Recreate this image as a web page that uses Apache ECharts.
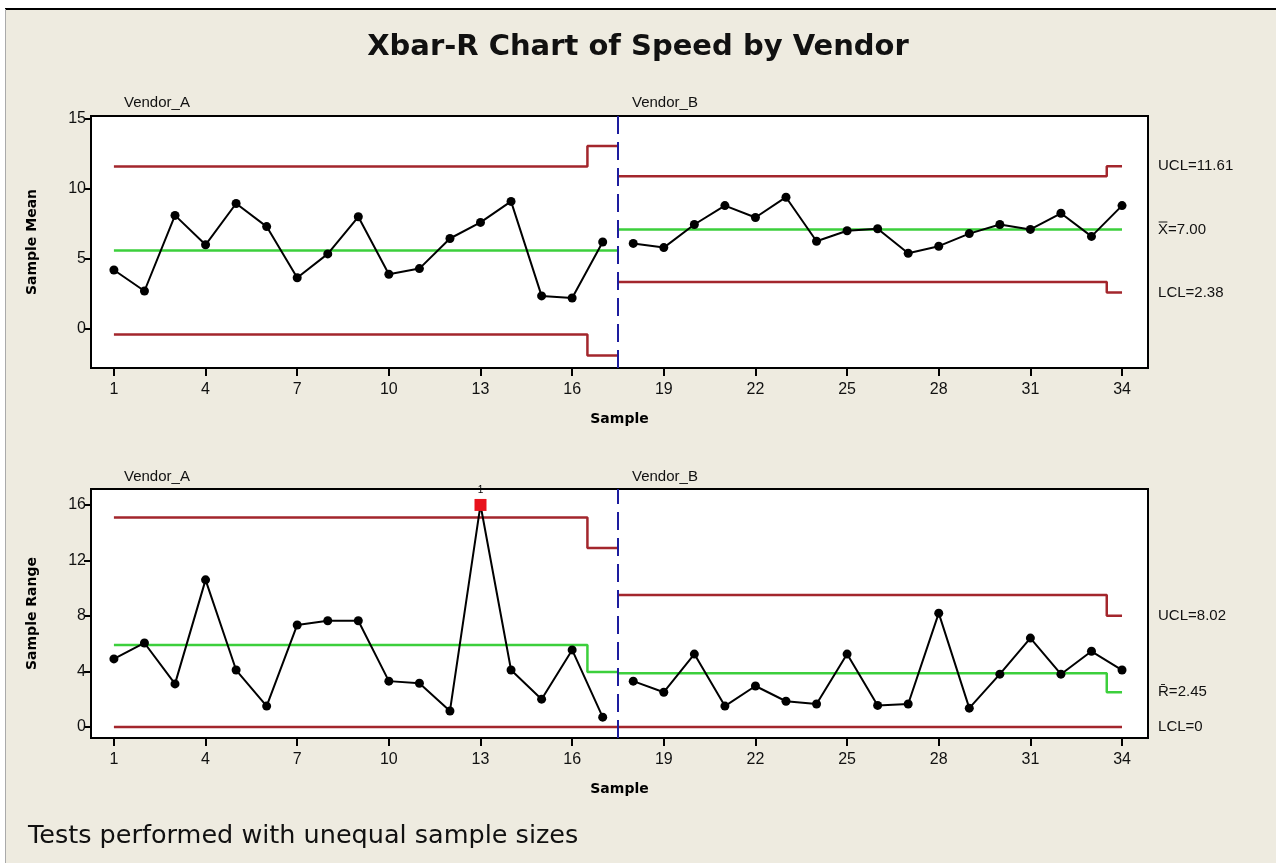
<!DOCTYPE html>
<html>
<head>
<meta charset="utf-8">
<script src="https://cdn.jsdelivr.net/npm/echarts@6/dist/echarts.min.js"></script>
<style>
  html, body { margin: 0; padding: 0; background: #fff; }
  #chart { width: 1276px; height: 863px; }
</style>
</head>
<body>
<div id="chart"></div>
<script>
// sample numbers per vendor
const samplesA = [1, 2, 3, 4, 5, 6, 7, 8, 9, 10, 11, 12, 13, 14, 15, 16, 17]
const samplesB = [18, 19, 20, 21, 22, 23, 24, 25, 26, 27, 28, 29, 30, 31, 32, 33, 34]
const xTicks = [1, 4, 7, 10, 13, 16, 19, 22, 25, 28, 31, 34]

// Xbar chart
const meanA = [4.2, 2.7, 8.1, 6.0, 8.95, 7.3, 3.65, 5.35, 8.0, 3.9, 4.3, 6.45, 7.6, 9.1, 2.35, 2.2, 6.2]
const meanB = [6.1, 5.8, 7.45, 8.8, 7.95, 9.4, 6.25, 7.0, 7.15, 5.4, 5.9, 6.8, 7.45, 7.1, 8.25, 6.6, 8.8]
const meanUclA = [11.6, 11.6, 11.6, 11.6, 11.6, 11.6, 11.6, 11.6, 11.6, 11.6, 11.6, 11.6, 11.6, 11.6, 11.6, 11.6, 13.05]
const meanClA = [5.6, 5.6, 5.6, 5.6, 5.6, 5.6, 5.6, 5.6, 5.6, 5.6, 5.6, 5.6, 5.6, 5.6, 5.6, 5.6, 5.6]
const meanLclA = [-0.4, -0.4, -0.4, -0.4, -0.4, -0.4, -0.4, -0.4, -0.4, -0.4, -0.4, -0.4, -0.4, -0.4, -0.4, -0.4, -1.9]
const meanUclB = [10.9, 10.9, 10.9, 10.9, 10.9, 10.9, 10.9, 10.9, 10.9, 10.9, 10.9, 10.9, 10.9, 10.9, 10.9, 10.9, 11.61]
const meanClB = [7.1, 7.1, 7.1, 7.1, 7.1, 7.1, 7.1, 7.1, 7.1, 7.1, 7.1, 7.1, 7.1, 7.1, 7.1, 7.1, 7.1]
const meanLclB = [3.35, 3.35, 3.35, 3.35, 3.35, 3.35, 3.35, 3.35, 3.35, 3.35, 3.35, 3.35, 3.35, 3.35, 3.35, 3.35, 2.6]
const meanTicks = [0, 5, 10, 15]
const meanLabels = ['UCL=11.61', 'X\u033F=7.00', 'LCL=2.38']

// R chart
const rangeA = [4.9, 6.05, 3.1, 10.6, 4.1, 1.5, 7.35, 7.65, 7.65, 3.3, 3.15, 1.15, 16.0, 4.1, 2.0, 5.55, 0.7]
const rangeB = [3.3, 2.5, 5.25, 1.5, 2.95, 1.85, 1.65, 5.25, 1.55, 1.65, 8.2, 1.35, 3.8, 6.4, 3.8, 5.45, 4.1]
const rangeUclA = [15.1, 15.1, 15.1, 15.1, 15.1, 15.1, 15.1, 15.1, 15.1, 15.1, 15.1, 15.1, 15.1, 15.1, 15.1, 15.1, 12.9]
const rangeClA = [5.9, 5.9, 5.9, 5.9, 5.9, 5.9, 5.9, 5.9, 5.9, 5.9, 5.9, 5.9, 5.9, 5.9, 5.9, 5.9, 3.95]
const rangeLclA = [0, 0, 0, 0, 0, 0, 0, 0, 0, 0, 0, 0, 0, 0, 0, 0, 0]
const rangeUclB = [9.5, 9.5, 9.5, 9.5, 9.5, 9.5, 9.5, 9.5, 9.5, 9.5, 9.5, 9.5, 9.5, 9.5, 9.5, 9.5, 8.02]
const rangeClB = [3.87, 3.87, 3.87, 3.87, 3.87, 3.87, 3.87, 3.87, 3.87, 3.87, 3.87, 3.87, 3.87, 3.87, 3.87, 3.87, 2.5]
const rangeLclB = [0, 0, 0, 0, 0, 0, 0, 0, 0, 0, 0, 0, 0, 0, 0, 0, 0]
const rangeTicks = [0, 4, 8, 12, 16]
const rangeLabels = ['UCL=8.02', 'R\u0304=2.45', 'LCL=0']
const outOfControl = [13]  // sample failing test 1 on R chart

const stageSplit = 17.5
const narrow = '"Liberation Sans", Arial, sans-serif'
const RED = '#a3262c'
const GREEN = '#3ccf3c'

const chart = echarts.init(document.getElementById('chart'))

// limit line for a stage: step at half samples, stretched to the stage border
function limitData(samples, vals, stage) {
  const pts = samples.map((s, i) => [s, vals[i]])
  if (stage === 'A') pts.push([stageSplit, vals[vals.length - 1]])
  else pts.unshift([stageSplit, vals[0]])
  return pts
}

function limitSeries(idx, samples, vals, stage, color, label) {
  const s = {
    type: 'line',
    xAxisIndex: idx,
    yAxisIndex: idx,
    step: 'middle',
    symbol: 'none',
    silent: true,
    z: 2,
    lineStyle: { color: color, width: 2.5 },
    data: limitData(samples, vals, stage)
  }
  if (label) {
    s.endLabel = {
      show: true,
      formatter: label,
      distance: 36,
      color: '#111',
      fontFamily: narrow,
      fontSize: 15
    }
  }
  return s
}

function pointSeries(idx, samples, vals, marks) {
  return {
    type: 'line',
    xAxisIndex: idx,
    yAxisIndex: idx,
    symbol: 'circle',
    symbolSize: 9,
    z: 5,
    itemStyle: { color: '#000' },
    lineStyle: { color: '#000', width: 2 },
    data: samples.map((s, i) => {
      if (marks && marks.indexOf(s) >= 0) {
        return {
          value: [s, vals[i]],
          symbol: 'rect',
          symbolSize: 12,
          itemStyle: { color: '#e8121c' },
          label: { show: true, formatter: '1', position: 'top', distance: 4, fontSize: 10, color: '#000' }
        }
      }
      return [s, vals[i]]
    })
  }
}

function splitLine(idx) {
  return {
    type: 'line',
    xAxisIndex: idx,
    yAxisIndex: idx,
    data: [],
    markLine: {
      silent: true,
      symbol: 'none',
      label: { show: false },
      lineStyle: { color: '#1d1d9e', width: 2, type: [18, 8] },
      data: [{ xAxis: stageSplit }]
    }
  }
}

function xAxisOf(idx) {
  return {
    type: 'value',
    gridIndex: idx,
    min: 0.25,
    max: 34.85,
    name: 'Sample',
    nameLocation: 'middle',
    nameGap: 44,
    nameTextStyle: { fontFamily: 'DejaVu Sans', fontWeight: 'bold', fontSize: 14, color: '#000' },
    axisLine: { show: true, onZero: false, lineStyle: { color: '#000', width: 2 } },
    splitLine: { show: false },
    axisTick: { show: true, length: 8, lineStyle: { color: '#000', width: 2 }, customValues: xTicks },
    axisLabel: { customValues: xTicks, color: '#111', fontFamily: narrow, fontSize: 16, margin: 14 }
  }
}

function yAxisOf(idx, name, min, max, ticks) {
  return {
    type: 'value',
    gridIndex: idx,
    min: min,
    max: max,
    name: name,
    nameLocation: 'middle',
    nameGap: 52,
    nameTextStyle: { fontFamily: 'DejaVu Sans', fontWeight: 'bold', fontSize: 14, color: '#000' },
    axisLine: { show: true, onZero: false, lineStyle: { color: '#000', width: 2 } },
    splitLine: { show: false },
    axisTick: { show: true, length: 7, lineStyle: { color: '#000', width: 2 }, customValues: ticks },
    axisLabel: { customValues: ticks, color: '#111', fontFamily: narrow, fontSize: 16, margin: 5 }
  }
}

const option = {
  backgroundColor: '#eeebe0',
  animation: false,
  title: {
    text: 'Xbar-R Chart of Speed by Vendor',
    left: 'center',
    top: 28,
    textStyle: { fontFamily: 'DejaVu Sans', fontWeight: 'bold', fontSize: 29, color: '#111' }
  },
  graphic: [
    { type: 'rect', shape: { x: 0, y: 0, width: 1276, height: 8 }, style: { fill: '#fff' }, silent: true },
    { type: 'rect', shape: { x: 0, y: 0, width: 5, height: 863 }, style: { fill: '#fff' }, silent: true },
    { type: 'line', shape: { x1: 5, y1: 9, x2: 1276, y2: 9 }, style: { stroke: '#000', lineWidth: 2 }, silent: true },
    { type: 'line', shape: { x1: 5.5, y1: 9, x2: 5.5, y2: 863 }, style: { stroke: '#aaa', lineWidth: 1 }, silent: true },
    { type: 'text', left: 124, top: 95, style: { text: 'Vendor_A', font: '15px ' + narrow, fill: '#111' } },
    { type: 'text', left: 632, top: 95, style: { text: 'Vendor_B', font: '15px ' + narrow, fill: '#111' } },
    { type: 'text', left: 124, top: 469, style: { text: 'Vendor_A', font: '15px ' + narrow, fill: '#111' } },
    { type: 'text', left: 632, top: 469, style: { text: 'Vendor_B', font: '15px ' + narrow, fill: '#111' } },
    { type: 'text', left: 28, top: 823, style: { text: 'Tests performed with unequal sample sizes', font: '25.5px "DejaVu Sans"', fill: '#111' } }
  ],
  grid: [
    { left: 91, top: 116, width: 1057, height: 252, show: true, backgroundColor: '#fff', borderColor: '#000', borderWidth: 2 },
    { left: 91, top: 489, width: 1057, height: 249, show: true, backgroundColor: '#fff', borderColor: '#000', borderWidth: 2 }
  ],
  xAxis: [xAxisOf(0), xAxisOf(1)],
  yAxis: [
    yAxisOf(0, 'Sample Mean', -2.8, 15.2, meanTicks),
    yAxisOf(1, 'Sample Range', -0.8, 17.15, rangeTicks)
  ],
  series: [
    limitSeries(0, samplesA, meanUclA, 'A', RED),
    limitSeries(0, samplesA, meanClA, 'A', GREEN),
    limitSeries(0, samplesA, meanLclA, 'A', RED),
    limitSeries(0, samplesB, meanUclB, 'B', RED, meanLabels[0]),
    limitSeries(0, samplesB, meanClB, 'B', GREEN, meanLabels[1]),
    limitSeries(0, samplesB, meanLclB, 'B', RED, meanLabels[2]),
    splitLine(0),
    pointSeries(0, samplesA, meanA),
    pointSeries(0, samplesB, meanB),

    limitSeries(1, samplesA, rangeUclA, 'A', RED),
    limitSeries(1, samplesA, rangeClA, 'A', GREEN),
    limitSeries(1, samplesA, rangeLclA, 'A', RED),
    limitSeries(1, samplesB, rangeUclB, 'B', RED, rangeLabels[0]),
    limitSeries(1, samplesB, rangeClB, 'B', GREEN, rangeLabels[1]),
    limitSeries(1, samplesB, rangeLclB, 'B', RED, rangeLabels[2]),
    splitLine(1),
    pointSeries(1, samplesA, rangeA, outOfControl),
    pointSeries(1, samplesB, rangeB)
  ]
}

chart.setOption(option)
</script>
</body>
</html>
